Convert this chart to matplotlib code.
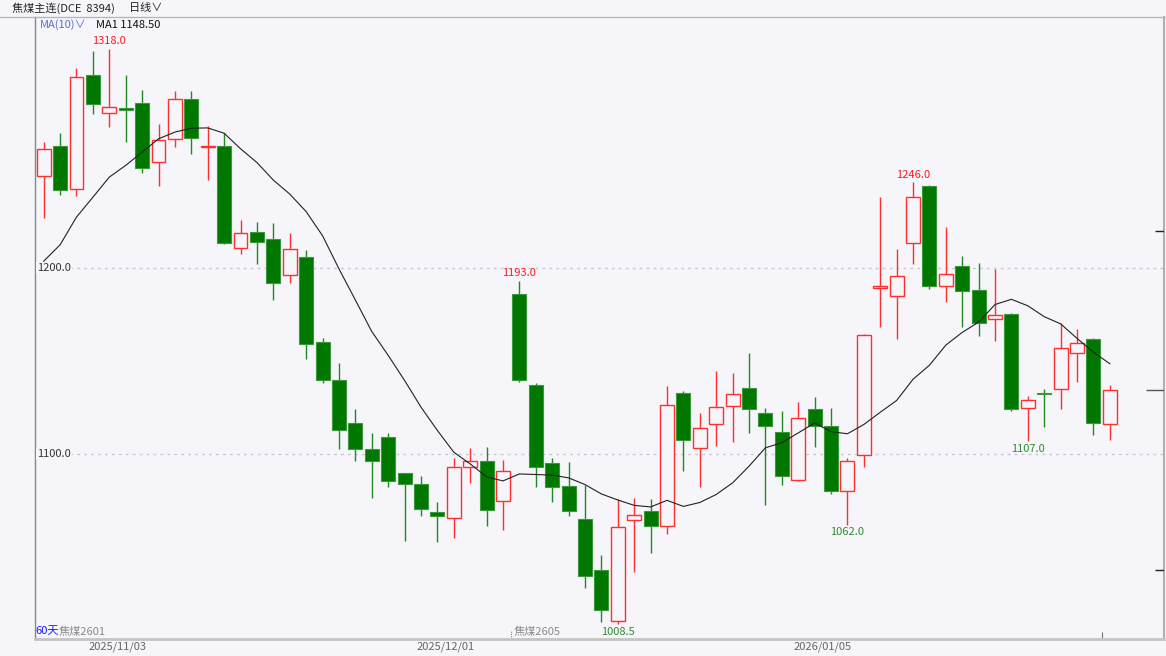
import numpy as np
import pandas as pd
import matplotlib
matplotlib.use('Agg')
import matplotlib.pyplot as plt
from matplotlib.lines import Line2D

plt.rcParams['font.family'] = ['Noto Sans CJK SC', 'DejaVu Sans']

# daily candles, 焦煤主连
opens = [1249.5, 1265.5, 1242.5, 1304.0, 1283.5, 1286.0, 1288.5, 1257.0, 1269.5, 1291.0,
         1265.0, 1265.5, 1210.5, 1219.5, 1215.5, 1196.0, 1206.0, 1160.0, 1140.0, 1116.5,
         1102.5, 1109.0, 1090.0, 1084.0, 1069.0, 1065.5, 1093.0, 1096.0, 1074.5, 1186.0,
         1137.0, 1095.0, 1083.0, 1065.0, 1037.5, 1010.0, 1064.5, 1069.5, 1061.5, 1133.0,
         1103.0, 1116.0, 1126.0, 1135.5, 1122.0, 1112.0, 1086.0, 1124.0, 1115.0, 1080.0,
         1099.5, 1189.0, 1185.0, 1213.5, 1244.0, 1190.5, 1201.0, 1188.0, 1172.5, 1175.0,
         1124.5, 1132.5, 1135.0, 1154.5, 1162.0, 1116.0]
highs = [1267.5, 1272.5, 1307.5, 1316.5, 1318.0, 1304.0, 1295.5, 1277.5, 1295.0, 1295.0,
         1276.5, 1272.5, 1226.0, 1224.5, 1224.0, 1219.0, 1209.5, 1162.5, 1149.0, 1124.0,
         1111.0, 1111.0, 1090.0, 1088.0, 1074.0, 1098.0, 1103.0, 1104.0, 1096.5, 1193.0,
         1138.0, 1098.0, 1095.5, 1083.5, 1045.5, 1076.0, 1076.5, 1076.0, 1136.5, 1134.0,
         1122.0, 1144.5, 1143.5, 1154.5, 1124.5, 1123.0, 1128.0, 1130.5, 1124.5, 1098.0,
         1164.5, 1238.0, 1210.0, 1246.0, 1244.5, 1222.0, 1206.5, 1202.5, 1199.5, 1176.0,
         1131.0, 1135.0, 1170.5, 1167.0, 1162.5, 1137.0]
lows = [1227.0, 1239.5, 1238.5, 1283.0, 1276.0, 1267.5, 1251.0, 1244.0, 1265.0, 1261.5,
        1247.5, 1213.0, 1207.5, 1202.0, 1183.0, 1192.0, 1151.0, 1138.0, 1102.5, 1096.0,
        1076.5, 1082.0, 1053.0, 1066.5, 1052.5, 1055.0, 1084.5, 1061.5, 1059.0, 1138.5,
        1082.0, 1074.0, 1066.5, 1028.0, 1009.5, 1008.5, 1036.5, 1047.0, 1057.0, 1091.0,
        1082.0, 1104.5, 1106.5, 1111.5, 1072.5, 1083.5, 1085.5, 1104.0, 1078.5, 1062.0,
        1093.0, 1168.5, 1162.0, 1202.0, 1188.5, 1181.5, 1168.0, 1163.5, 1160.5, 1123.0,
        1107.0, 1114.5, 1124.0, 1138.5, 1110.0, 1107.5]
closes = [1264.0, 1242.0, 1302.5, 1288.0, 1286.5, 1285.0, 1253.5, 1269.0, 1291.0, 1270.0,
          1265.5, 1213.5, 1219.0, 1214.0, 1192.0, 1210.0, 1159.0, 1139.5, 1113.0, 1102.5,
          1096.0, 1085.5, 1084.0, 1070.5, 1066.5, 1093.0, 1096.0, 1070.0, 1091.0, 1140.0,
          1093.0, 1082.0, 1069.5, 1034.5, 1016.0, 1060.5, 1067.0, 1061.5, 1126.5, 1107.5,
          1114.0, 1125.0, 1132.0, 1124.0, 1115.0, 1088.0, 1119.5, 1115.0, 1080.0, 1096.0,
          1164.0, 1190.5, 1195.5, 1238.0, 1190.5, 1196.5, 1187.5, 1170.5, 1174.5, 1124.0,
          1129.0, 1132.0, 1157.0, 1159.5, 1116.5, 1134.5]
# closes before the visible window (feed the MA10)
prev_closes = [1154.0, 1153.5, 1181.0, 1178.5, 1222.0, 1182.5, 1197.0, 1255.0, 1249.0]

peak_idx = [4, 29, 53]
trough_idx = [35, 49, 60]
date_labels = ['2025/11/03', '2025/12/01', '2026/01/05']
date_idx = [4, 24, 47]
contracts = ['焦煤2601', '焦煤2605']
contract_start = [0, 29]
grid_levels = [1200, 1100]
right_marks = [1220.0, 1037.5]

bg = '#f5f5fa'
up_c = '#ff3030'
dn_fill = '#007800'
dn_wick = '#1f8a1f'

n = len(closes)
x = np.arange(n)
o = np.array(opens); h = np.array(highs); l = np.array(lows); c = np.array(closes)
up = c >= o

ma = pd.Series(prev_closes + closes).rolling(10).mean().iloc[len(prev_closes):].values

W, H = 1166, 656
fig = plt.figure(figsize=(W / 100, H / 100), dpi=100, facecolor=bg)
ax = fig.add_axes([35 / W, 1 - 639 / H, (1164 - 35) / W, (639 - 16.7) / H])
ax.set_facecolor(bg)
ax.set_xlim(-0.53, 68.3)
ax.set_ylim(1000.5, 1335.1)

for lv in grid_levels:
    ax.axhline(lv, color='#c8c8d2', lw=1, ls=(0, (2, 3)), zorder=1)
    ax.text(0.002, lv, f'{lv:.1f}', transform=ax.get_yaxis_transform(), fontsize=8,
            color='#333333', va='center', ha='left', zorder=5,
            bbox=dict(boxstyle='square,pad=0.1', fc=bg, ec='none'))

# wicks
ax.vlines(x[up], l[up], h[up], color=up_c, lw=1, zorder=2)
ax.vlines(x[~up], l[~up], h[~up], color=dn_wick, lw=1, zorder=2)
# bodies
body_lo = np.minimum(o, c)
body_h = np.maximum(np.abs(c - o), 0.6)
ax.bar(x[up], body_h[up], bottom=body_lo[up], width=0.85, facecolor=bg,
       edgecolor=up_c, lw=1, zorder=3)
ax.bar(x[~up], body_h[~up], bottom=body_lo[~up], width=0.85, facecolor=dn_fill,
       edgecolor='#3c963c', lw=0.8, zorder=3)

ax.plot(x, ma, color='#222222', lw=0.8, zorder=4)

for i in peak_idx:
    ax.annotate(f'{highs[i]:.1f}', (i, highs[i]), xytext=(0, 2), textcoords='offset points',
                ha='center', va='bottom', fontsize=8, color='#ff1a1a')
for i in trough_idx:
    ax.annotate(f'{lows[i]:.1f}', (i, lows[i]), xytext=(0, -2), textcoords='offset points',
                ha='center', va='top', fontsize=8, color='#2e8b2e')

# right side price marks
for y in right_marks:
    ax.hlines(y, 67.75, 68.3, color='#222222', lw=1, zorder=5)
ax.hlines(closes[-1], 67.2, 68.3, color='#555555', lw=1, zorder=5)

# contract labels along the bottom
for name, s in zip(contracts, contract_start):
    dx = 17 if s == 0 else 1.5
    ax.annotate(name, (s - 0.5, 0), xycoords=ax.get_xaxis_transform(), xytext=(dx, 5),
                textcoords='offset points', ha='left', va='center', fontsize=8, color='#8a8a8a')
    if s > 0:
        ax.vlines(s - 0.5, 0, 0.015, transform=ax.get_xaxis_transform(), color='#888888',
                  lw=0.8, ls=(0, (1, 1)))
ax.text(0.0, 0.012, '60天', transform=ax.transAxes, fontsize=8, color='#1a1aff',
        ha='left', va='center')
ax.vlines(64.55, 0, 0.012, transform=ax.get_xaxis_transform(), color='#777777', lw=0.8)

ax.set_xticks([i + 0.5 for i in date_idx])
ax.set_xticklabels(date_labels, fontsize=8, color='#666666')
ax.tick_params(axis='x', length=0, pad=1.5)
ax.set_yticks([])

ax.spines['top'].set_visible(False)
ax.spines['left'].set_color('#888888')
ax.spines['left'].set_linewidth(1)
ax.spines['bottom'].set_color('#c4c4c4')
ax.spines['bottom'].set_linewidth(2)
ax.spines['right'].set_color('#b0b0b0')
ax.spines['right'].set_linewidth(1.5)

# header
fig.add_artist(Line2D([0, 1], [1 - 16.7 / H] * 2, color='#b8b8b8', lw=1))
fig.text(12 / W, 1 - 8 / H, '焦煤主连(DCE  8394)', fontsize=8, color='#222222', va='center')
fig.text(129 / W, 1 - 8 / H, '日线∨', fontsize=8, color='#222222', va='center')
fig.text(40 / W, 1 - 25 / H, 'MA(10)∨', fontsize=8, color='#5a6fd6', va='center')
fig.text(96 / W, 1 - 25 / H, f'MA1 {ma[-1]:.2f}', fontsize=8, color='#111111', va='center')

fig.savefig('out.png', dpi=100, facecolor=bg)
